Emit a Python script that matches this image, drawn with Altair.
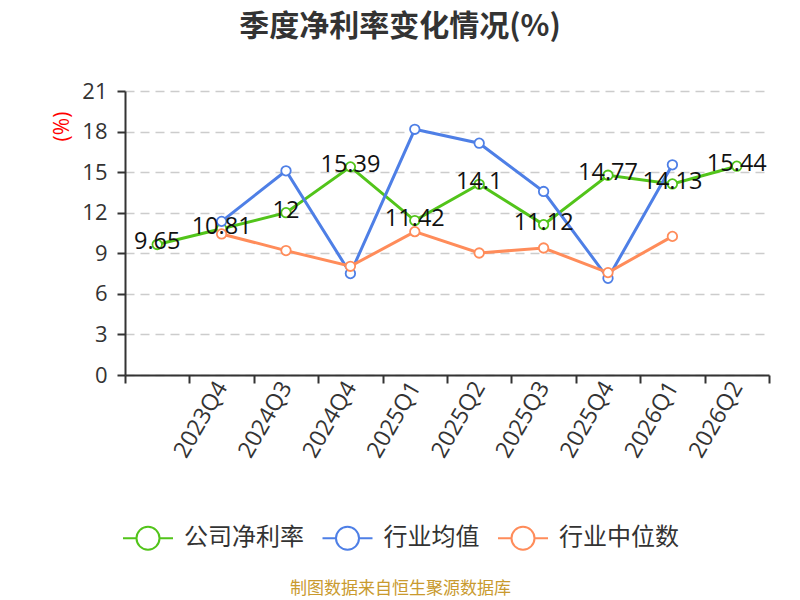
import altair as alt
import pandas as pd

categories = ["2023Q3", "2023Q4", "2024Q3", "2024Q4", "2025Q1",
              "2025Q2", "2025Q3", "2025Q4", "2026Q1", "2026Q2"]
company = [9.65, 10.81, 12, 15.39, 11.42, 14.1, 11.12, 14.77, 14.13, 15.44]
industry_mean = [None, 11.36, 15.1, 7.5, 18.17, 17.14, 13.57, 7.15, 15.54, None]
industry_median = [None, 10.43, 9.2, 8.04, 10.6, 9.02, 9.39, 7.57, 10.25, None]
series_names = ["公司净利率", "行业均值", "行业中位数"]
series_colors = ["#52c41a", "#4e7fe6", "#ff8c5a"]
y_ticks = [0, 3, 6, 9, 12, 15, 18, 21]

rows = []
for name, values in zip(series_names, [company, industry_mean, industry_median]):
    for c, v in zip(categories, values):
        if v is not None:
            rows.append({"q": c, "v": v, "s": name, "lbl": f"{v:g}"})
df = pd.DataFrame(rows)

FONT = "Open Sans, Noto Sans CJK SC"
CJK = "Noto Sans CJK SC"
LEGEND_PATH = ("M-1,0L-0.46,0M0.46,0L1,0M0.46,0A0.46,0.46,0,1,1,-0.46,0"
               "A0.46,0.46,0,1,1,0.46,0")

x_enc = alt.X(
    "q:N", sort=categories,
    scale=alt.Scale(type="band", domain=categories, paddingInner=0, paddingOuter=0),
    axis=alt.Axis(
        title="制图数据来自恒生聚源数据库",
        titleFont=CJK, titleFontSize=17, titleFontWeight="normal",
        titleColor="#c99a2e", titleX=275, titleY=213,
        titleAlign="center", titleBaseline="middle", titleAnchor="start",
        labelAngle=-60, labelAlign="right", labelBaseline="middle",
        labelExpr="datum.value == '2023Q3' ? '' : datum.label",
        labelFont=FONT, labelFontSize=23, labelColor="#333333", labelPadding=0,
        tickBand="extent", tickSize=8, tickWidth=2, tickColor="#333333",
        domainColor="#333333", domainWidth=2, grid=False, labelOverlap=False,
    ),
)
y_enc = alt.Y(
    "v:Q",
    scale=alt.Scale(domain=[0, 21], nice=False),
    axis=alt.Axis(
        values=y_ticks, title="(%)", titleColor="red", titleFont=FONT,
        titleFontSize=21, titleFontWeight="normal", titleX=-63, titleY=35,
        titleAlign="center", titleBaseline="middle",
        labelFont=FONT, labelFontSize=22, labelColor="#333333", labelPadding=10,
        tickSize=8, tickWidth=2, tickColor="#333333",
        domainColor="#333333", domainWidth=2,
        grid=True, gridDash=[9, 6], gridColor="#cccccc", gridWidth=1.5,
    ),
)
color_enc = alt.Color(
    "s:N",
    scale=alt.Scale(domain=series_names, range=series_colors),
    legend=alt.Legend(
        title=None, orient="none", direction="horizontal",
        legendX=-3, legendY=421, padding=0,
        symbolType=LEGEND_PATH, symbolSize=2500, symbolStrokeWidth=2,
        symbolFillColor="white",
        labelFont=CJK, labelFontSize=24, labelColor="#333333",
        labelOffset=10, columnPadding=14.5, labelLimit=0,
    ),
)

base = alt.Chart(df).encode(x=x_enc, y=y_enc, color=color_enc)
lines = base.mark_line(strokeWidth=3)
points = base.mark_point(filled=False, fill="white", size=90, strokeWidth=1.8, opacity=1)
labels = (
    alt.Chart(df)
    .transform_filter(alt.datum.s == series_names[0])
    .mark_text(font=FONT, fontSize=23.5, color="#111111", align="center",
               baseline="middle", dy=-2)
    .encode(x=x_enc, y=y_enc, text="lbl:N")
)

chart = (
    alt.layer(lines, points, labels)
    .properties(
        width=644, height=284,
        title=alt.Title("季度净利率变化情况(%)", font=CJK, fontSize=30,
                        fontWeight="bold", color="#333333", anchor="middle",
                        frame="group", dx=-47, offset=38),
        autosize=alt.AutoSizeParams(type="none"),
        padding={"left": 117, "top": 83, "right": 23, "bottom": 225},
    )
    .configure_view(stroke=None)
)

chart.save("out.html", embed_options={"renderer": "svg", "actions": False})
